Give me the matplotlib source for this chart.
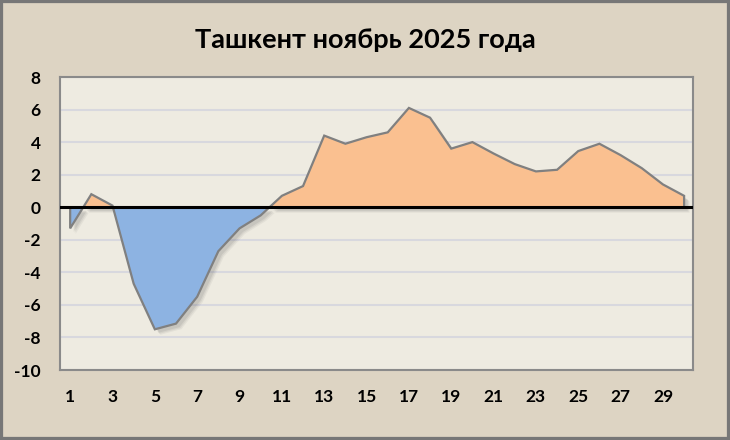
import numpy as np
import matplotlib
matplotlib.use("Agg")
import matplotlib.pyplot as plt
from matplotlib.transforms import offset_copy
from matplotlib.patches import Rectangle

days = list(range(1, 31))
temps = [-1.3, 0.8, 0.1, -4.7, -7.5, -7.15, -5.5, -2.7, -1.3, -0.5,
         0.7, 1.3, 4.4, 3.9, 4.3, 4.6, 6.1, 5.5, 3.6, 4.0,
         3.3, 2.65, 2.2, 2.3, 3.45, 3.9, 3.2, 2.4, 1.4, 0.7]
title = "Ташкент ноябрь 2025 года"
yticks = list(range(-10, 9, 2))
xticks = list(range(1, 31, 2))

plt.rcParams['font.family'] = ['Lato', 'DejaVu Sans']

fig = plt.figure(figsize=(7.3, 4.4), dpi=100)
fig.patch.set_facecolor('#ddd4c3')
fig.patches.append(Rectangle((0, 0), 1, 1, transform=fig.transFigure,
                             fill=False, edgecolor='#777777', lw=4.5, zorder=10))

ax = fig.add_axes([60/730, 70/440, 633/730, 293/440])
ax.set_facecolor('#eeebe1')
x = np.array(days, dtype=float)
y = np.array(temps)

ax.set_xlim(0.52, 30.42)
ax.set_ylim(-10, 8)

# gridlines
for t in yticks:
    ax.axhline(t, color='#d8d8de', lw=1.5, zorder=1)

# soft shadow
for k, a in [(5, 0.07), (4, 0.09), (3, 0.11)]:
    tr = offset_copy(ax.transData, fig=fig, x=k, y=-k, units='dots')
    ax.fill_between(x, y, 0, color='#555555', alpha=a, lw=0, transform=tr, zorder=1.5)

ax.fill_between(x, y, 0, where=y >= 0, interpolate=True, color='#fac090', lw=0, zorder=2)
ax.fill_between(x, y, 0, where=y <= 0, interpolate=True, color='#8db3e2', lw=0, zorder=2)
ax.plot(np.concatenate([[x[0]], x, [x[-1]]]), np.concatenate([[0], y, [0]]),
        color='#808080', lw=1.6, zorder=3, solid_joinstyle='miter')
ax.axhline(0, color='black', lw=2.2, zorder=4)

for s in ax.spines.values():
    s.set_color('#8a8a8a')
    s.set_linewidth(1.5)

ax.set_yticks(yticks)
ax.set_yticklabels([str(t) for t in yticks])
ax.set_xticks(xticks)
ax.set_xticklabels([str(t) for t in xticks])
ax.tick_params(axis='both', length=0, labelsize=12.5)
ax.tick_params(axis='y', pad=14)
ax.tick_params(axis='x', pad=14)
for lab in ax.get_xticklabels() + ax.get_yticklabels():
    lab.set_fontweight('bold')

fig.text(365/730, 1 - 40/440, title, ha='center', va='center',
         fontsize=19.5, fontweight='bold')

fig.savefig('out.png', dpi=100, facecolor=fig.get_facecolor())
